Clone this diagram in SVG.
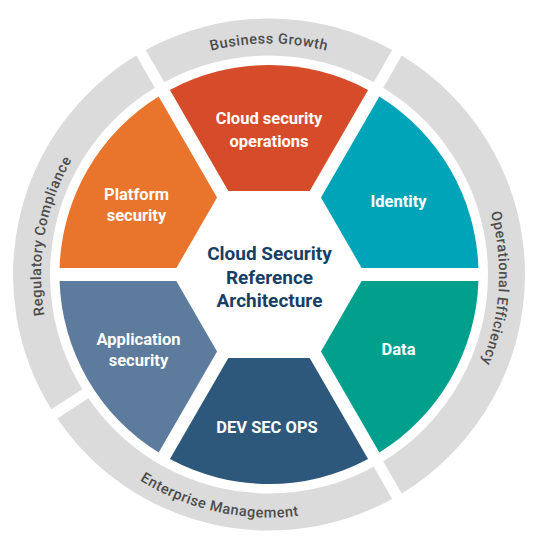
<svg xmlns="http://www.w3.org/2000/svg" width="536" height="560" viewBox="0 0 536 560">
<style>
.ring{fill:#DBDBDB}
.rt{font-family:Roboto,"Liberation Sans",sans-serif;font-weight:500;font-size:14.5px;fill:#4D4D4D;letter-spacing:0.5px}
.lbl{font-family:Roboto,"Liberation Sans",sans-serif;font-weight:700;font-size:16.5px;fill:#FFFFFF;text-anchor:middle}
.ctr{font-family:Roboto,"Liberation Sans",sans-serif;font-weight:700;font-size:19px;fill:#173F66;text-anchor:middle}
</style>
<defs>
<path id="seg" d="M-40.7,-83.5 L-99.07,-184.6 A209.5,209.5 0 0 1 99.07,-184.6 L40.7,-83.5 Z"/>
<path id="pBG" d="M68.95,159 A231,231 0 0 1 469.05,159"/>
<path id="pOE" d="M396.04,82.71 A230,230 0 0 1 371.63,480.33"/>
<path id="pRC" d="M122.44,449.16 A228,228 0 0 1 191.02,60.25"/>
<path id="pEM" d="M37.25,347.57 A243,243 0 0 0 448.16,438.67"/>
</defs>
<rect width="536" height="560" fill="#FFFFFF"/>

<g id="ring-business-growth">
<path class="ring" d="M145.79,50.10 A256,256 0 0 1 392.21,50.10 L373.70,82.15 A219,219 0 0 0 164.30,82.15 Z"/>
<text class="rt" text-anchor="middle"><textPath href="#pBG" startOffset="50%">Business Growth</textPath></text>
</g>
<g id="ring-operational-efficiency">
<path class="ring" d="M401.73,55.60 A256,256 0 0 1 401.73,493.40 L383.23,461.35 A219,219 0 0 0 383.23,87.65 Z"/>
<text class="rt" text-anchor="middle"><textPath href="#pOE" startOffset="50%">Operational Efficiency</textPath></text>
</g>
<g id="ring-enterprise-management">
<path class="ring" d="M57.34,418.51 A256,256 0 0 0 392.21,498.90 L373.70,466.85 A219,219 0 0 1 88.38,398.35 Z"/>
<text class="rt" text-anchor="middle"><textPath href="#pEM" startOffset="50%">Enterprise Management</textPath></text>
</g>
<g id="ring-regulatory-compliance">
<path class="ring" d="M136.27,55.60 A256,256 0 0 0 51.35,409.28 L82.39,389.13 A219,219 0 0 1 154.77,87.65 Z"/>
<text class="rt" text-anchor="middle"><textPath href="#pRC" startOffset="50%">Regulatory Compliance</textPath></text>
</g>

<g id="seg-cloud-security-operations">
<use href="#seg" transform="translate(269,274.5)" fill="#D64C2A"/>
<text class="lbl" x="269" y="124">Cloud security</text>
<text class="lbl" x="269" y="146.7">operations</text>
</g>
<g id="seg-identity">
<use href="#seg" transform="translate(269,274.5) rotate(60)" fill="#00A4B8"/>
<text class="lbl" x="398.5" y="206.7">Identity</text>
</g>
<g id="seg-data">
<use href="#seg" transform="translate(269,274.5) rotate(120)" fill="#00A08D"/>
<text class="lbl" x="398.5" y="355">Data</text>
</g>
<g id="seg-dev-sec-ops">
<use href="#seg" transform="translate(269,274.5) rotate(180)" fill="#2D587B"/>
<text class="lbl" x="267" y="433.3">DEV SEC OPS</text>
</g>
<g id="seg-application-security">
<use href="#seg" transform="translate(269,274.5) rotate(240)" fill="#5D7B9C"/>
<text class="lbl" x="138.5" y="345">Application</text>
<text class="lbl" x="138.5" y="366">security</text>
</g>
<g id="seg-platform-security">
<use href="#seg" transform="translate(269,274.5) rotate(300)" fill="#E8752B"/>
<text class="lbl" x="136.5" y="200">Platform</text>
<text class="lbl" x="136.5" y="221">security</text>
</g>

<g id="center">
<text class="ctr" x="269.5" y="260">Cloud Security</text>
<text class="ctr" x="269.5" y="283.5">Reference</text>
<text class="ctr" x="269.5" y="307">Architecture</text>
</g>
</svg>
